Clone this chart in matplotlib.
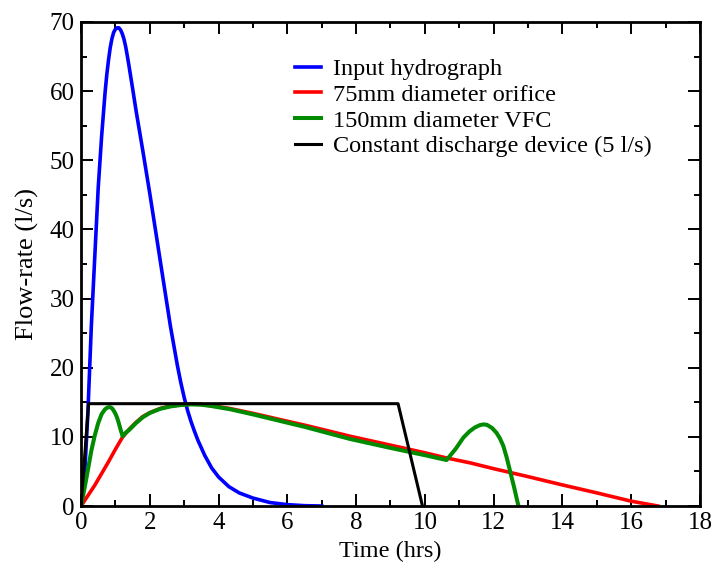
import matplotlib
matplotlib.use("Agg")
import matplotlib.pyplot as plt
from matplotlib.ticker import MultipleLocator

plt.rcParams["font.family"] = ["Liberation Serif", "DejaVu Serif"]

# Input hydrograph (hrs, l/s)
t_in = [0, 0.1, 0.2, 0.3, 0.4, 0.5, 0.6, 0.7, 0.75, 0.8, 0.85, 0.9, 0.95,
        1.0, 1.05, 1.1, 1.15, 1.2, 1.25, 1.3, 1.35, 1.4, 1.5, 1.6, 1.8, 2.0,
        2.2, 2.4, 2.6, 2.8, 2.9, 3.0, 3.1, 3.2, 3.3, 3.4, 3.6, 3.8, 4.0, 4.3,
        4.6, 5.0, 5.5, 6.0, 6.5, 7.0]
q_in = [0, 4.0, 13.5, 26.0, 36.0, 46.0, 53.5, 59.8, 62.4, 64.5, 66.3, 67.6,
        68.5, 68.95, 69.15, 69.15, 68.85, 68.3, 67.5, 66.4, 65.0, 63.5, 60.4,
        57.2, 51.3, 45.2, 38.8, 32.4, 26.0, 20.4, 17.9, 15.7, 13.8, 12.2,
        10.8, 9.5, 7.3, 5.5, 4.2, 2.8, 1.9, 1.15, 0.5, 0.2, 0.05, 0.0]

# 75mm diameter orifice
t_orf = [0, 0.2, 0.4, 0.6, 0.8, 1.0, 1.2, 1.4, 1.6, 1.8, 2.0, 2.3, 2.6, 2.9,
         3.2, 3.5, 3.8, 4.33, 5.0, 5.79, 6.5, 7.82, 9.0, 10.0, 10.63, 11.31,
         12.0, 13.0, 14.0, 15.0, 16.0, 16.78]
q_orf = [0, 1.5, 3.0, 4.7, 6.4, 8.2, 9.9, 11.1, 12.1, 12.95, 13.5, 14.1,
         14.45, 14.65, 14.75, 14.7, 14.5, 14.1, 13.4, 12.5, 11.7, 10.1, 8.8,
         7.7, 6.95, 6.25, 5.4, 4.25, 3.05, 1.9, 0.7, 0.0]

# 150mm diameter VFC
t_vfc = [0, 0.1, 0.2, 0.3, 0.4, 0.5, 0.6, 0.7, 0.77, 0.84, 0.9, 0.95, 1.0,
         1.04, 1.08, 1.12, 1.16, 1.21, 1.3, 1.4, 1.6, 1.8, 2.0, 2.3, 2.6,
         2.9, 3.2, 3.5, 3.8, 4.33, 5.0, 5.79, 6.5, 7.82, 9.0, 10.0, 10.63,
         10.9, 11.12, 11.3, 11.45, 11.6, 11.7, 11.8, 11.95, 12.08, 12.18,
         12.28, 12.38, 12.47, 12.6, 12.72]
q_vfc = [0, 2.5, 5.2, 8.0, 10.2, 12.0, 13.3, 14.0, 14.25, 14.3, 14.15, 13.8,
         13.35, 12.9, 12.3, 11.6, 10.9, 10.1, 10.6, 11.0, 12.0, 12.85, 13.45,
         14.05, 14.4, 14.6, 14.7, 14.65, 14.45, 14.0, 13.25, 12.3, 11.45, 9.7,
         8.4, 7.35, 6.65, 8.3, 9.9, 10.8, 11.35, 11.7, 11.8, 11.75, 11.3,
         10.6, 9.8, 8.7, 7.0, 5.2, 2.6, 0.0]

# Constant discharge device
t_cdd = [0, 0.22, 9.22, 9.93]
q_cdd = [0, 14.8, 14.8, 0]

fig = plt.figure(figsize=(7.15, 5.63), dpi=100)
ax = fig.add_axes([0.1133, 0.1012, 0.8657, 0.8598])

ax.plot(t_in, q_in, color="#0000ff", lw=2.6, label="Input hydrograph")
ax.plot(t_orf, q_orf, color="#ff0000", lw=2.6, label="75mm diameter orifice")
ax.plot(t_vfc, q_vfc, color="#008b00", lw=2.9, label="150mm diameter VFC")
ax.plot(t_cdd, q_cdd, color="#000000", lw=2.2,
        label="Constant discharge device (5 l/s)")

ax.set_xlim(0, 18)
ax.set_ylim(0, 70)
ax.xaxis.set_major_locator(MultipleLocator(2))
ax.xaxis.set_minor_locator(MultipleLocator(1))
ax.yaxis.set_major_locator(MultipleLocator(10))
ax.yaxis.set_minor_locator(MultipleLocator(5))
ax.tick_params(which="both", direction="in", top=True, right=True,
               labelsize=18, width=1.4)
ax.tick_params(which="major", length=8.5, pad=4.5)
ax.tick_params(which="minor", length=4.3)
for sp in ax.spines.values():
    sp.set_linewidth(2.0)

ax.set_xlabel("Time (hrs)", fontsize=17.5, labelpad=5)
ax.set_ylabel("Flow-rate (l/s)", fontsize=19, labelpad=8)

ax.legend(loc="upper left", bbox_to_anchor=(0.3457, 0.925), frameon=False,
          fontsize=17.5, borderpad=0, borderaxespad=0, handlelength=1.06,
          handletextpad=0.5, labelspacing=0.15)

fig.savefig("out.png", dpi=100)
